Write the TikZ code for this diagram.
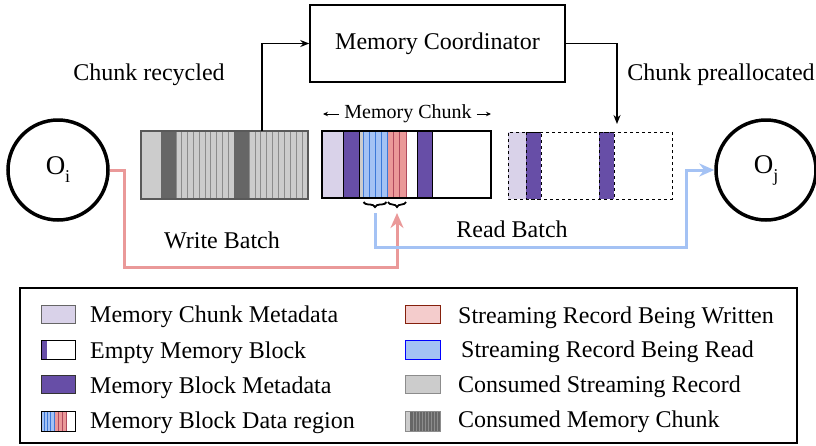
\documentclass[tikz,border=0pt]{standalone}
\usepackage{fontspec}
\setmainfont{Liberation Serif}
\usetikzlibrary{arrows.meta,decorations.pathreplacing,calc}

\definecolor{lav}{HTML}{D9D2E9}
\definecolor{purp}{HTML}{674EA7}
\definecolor{blu}{HTML}{A4C2F4}
\definecolor{bluline}{HTML}{3C78D8}
\definecolor{rd}{HTML}{EA9999}
\definecolor{rdline}{HTML}{B04A5E}
\definecolor{pink}{HTML}{F4CCCC}
\definecolor{pinkline}{HTML}{85200C}
\definecolor{lgray}{HTML}{CCCCCC}
\definecolor{dgray}{HTML}{666666}
\definecolor{mgray}{HTML}{8C8C8C}
\definecolor{readarrow}{HTML}{A4C2F4}
\definecolor{writearrow}{HTML}{EA9999}

\tikzset{
  txt/.style={font=\fontsize{24}{28}\selectfont, inner sep=0pt},
  op/.style={circle, draw, line width=3.5pt, minimum size=100pt, inner sep=0pt},
  chunkbox/.style={draw, line width=1.3pt, inner sep=0pt},
  coordbox/.style={draw, line width=1.5pt, inner sep=0pt, minimum width=255pt, minimum height=77pt},
  flow/.style={line width=1.5pt, -{Stealth[length=9pt,width=7pt]}},
  readflow/.style={readarrow, line width=3pt, -{Stealth[length=15pt,width=13pt]}},
  writeflow/.style={writearrow, line width=3pt, -{Stealth[length=15pt,width=13pt]}},
  bracemark/.style={decorate, decoration={brace, mirror, amplitude=5pt}, line width=1.8pt},
  swatch/.style={line width=1pt},
}

\newcommand{\opname}[2]{O\raisebox{-8pt}{\fontsize{18}{18}\selectfont #2}}

\begin{document}
\begin{tikzpicture}[x=1pt, y=-1pt]
\useasboundingbox (0,0) rectangle (816,445);

% ---------- operators ----------
\node[op, font=\fontsize{27}{30}\selectfont] (oi) at (58,170) {\opname{O}{i}};
\node[op, font=\fontsize{27}{30}\selectfont] (oj) at (766,170) {\opname{O}{j}};

% ---------- memory coordinator ----------
\node[coordbox, txt] (coord) at (437.5,43.5) {Memory Coordinator};

% ---------- consumed chunk (write batch) ----------
\fill[lgray] (141,131) rectangle (308,199);
\fill[dgray] (161,131) rectangle (176,199);
\fill[dgray] (234,131) rectangle (249,199);
\foreach \x in {176,181.8,...,234} \draw[mgray, line width=0.8pt] (\x,131) -- (\x,199);
\foreach \x in {249,254.9,...,308} \draw[mgray, line width=0.8pt] (\x,131) -- (\x,199);
\node[chunkbox, draw=black!65, minimum width=167pt, minimum height=68pt] (wb) at (224.5,165) {};

% ---------- active memory chunk ----------
\fill[lav] (322,131) rectangle (343,198);
\fill[lgray] (359,131) rectangle (363,198);
\fill[blu] (363,131) rectangle (387,198);
\fill[rd] (387,131) rectangle (406,198);
\foreach \x in {363,369,375,381,387} \draw[bluline, line width=0.9pt] (\x,131) -- (\x,198);
\foreach \x in {393.3,399.7,406} \draw[rdline, line width=0.9pt] (\x,131) -- (\x,198);
\filldraw[purp, draw=black, line width=1pt] (343,131) rectangle (359,198);
\filldraw[purp, draw=black, line width=1pt] (417,131) rectangle (432,198);
\node[chunkbox, minimum width=169pt, minimum height=67pt] (mc) at (406.5,164.5) {};

% chunk extent label
\node[font=\fontsize{20}{24}\selectfont, inner sep=0pt] (mclabel) at (408,114) {Memory Chunk};
\coordinate (mcl) at (323,114);
\coordinate (mcr) at (491,114);
\draw[line width=1pt, -{Stealth[length=5pt,width=4.5pt]}] (mclabel.west) ++(-5,0) -- (mcl);
\draw[line width=1pt, -{Stealth[length=5pt,width=4.5pt]}] (mclabel.east) ++(5,0) -- (mcr);

% ---------- preallocated chunk ----------
\fill[lav] (508,132) rectangle (526,199);
\filldraw[purp, draw=black, dashed, line width=1pt] (526,132) rectangle (541,199);
\filldraw[purp, draw=black, dashed, line width=1pt] (599,132) rectangle (614,199);
\node[chunkbox, dashed, line width=1pt, minimum width=164pt, minimum height=67pt] (pc) at (590,165.5) {};

% ---------- record braces ----------
\draw[bracemark] (363.5,202) -- (386.5,202);
\draw[bracemark] (388,202) -- (406,202);
\coordinate (rbtip) at (375,213);
\coordinate (wbtip) at (397,213);

% ---------- coordinator flows ----------
\coordinate (recyc) at (262,131);
\coordinate (prealloc) at (617,124);
\draw[flow] (recyc) |- (coord.west);
\draw[flow] (coord.east) -| (prealloc);

\node[txt] (lrec) at (149,75) {Chunk recycled};
\node[txt] (lpre) at (721,75) {Chunk preallocated};

% ---------- data flows ----------
\coordinate (rturn) at (124,267);
\coordinate (bturn) at (686,247);
\draw[writeflow] (oi.east) -| (rturn) -| (wbtip);
\draw[readflow] (rbtip) |- (bturn) |- (oj.west);

\node[txt] (lwb) at (222,240) {Write Batch};
\node[txt] (lrb) at (512,229) {Read Batch};

% ---------- legend ----------
\node[draw, line width=1.5pt, minimum width=777pt, minimum height=155pt, inner sep=0pt] (legend) at (408.5,365.5) {};

% left column swatches
\filldraw[lav, draw=dgray, swatch] (41,305) rectangle (75,323);
\fill[white] (41,340) rectangle (75,359);
\fill[purp] (41,340) rectangle (47,359);
\draw[swatch] (41,340) rectangle (75,359);
\filldraw[purp, draw=black!80, swatch] (41,375) rectangle (75,393);
\fill[blu] (41,411) rectangle (54,431);
\fill[rd] (54,411) rectangle (66,431);
\foreach \x in {44.2,47.5,50.8,54} \draw[bluline, line width=0.7pt] (\x,411) -- (\x,431);
\foreach \x in {58,62,66} \draw[rdline, line width=0.7pt] (\x,411) -- (\x,431);
\draw[swatch] (41,411) rectangle (75,431);

% right column swatches
\filldraw[pink, draw=pinkline, swatch] (405,305) rectangle (440,323);
\filldraw[blu, draw=blue, swatch] (405,340) rectangle (440,359);
\filldraw[lgray, draw=mgray, swatch] (405,375) rectangle (440,393);
\fill[lgray] (405,411) rectangle (410,431);
\fill[dgray] (410,411) rectangle (440,431);
\foreach \x in {413,416,...,440} \draw[mgray, line width=0.6pt] (\x,411) -- (\x,431);
\draw[mgray, swatch] (405,411) rectangle (440,431);

% legend texts
\node[txt, anchor=base west] (t1) at (90,322) {Memory Chunk Metadata};
\node[txt, anchor=base west] (t2) at (90,358) {Empty Memory Block};
\node[txt, anchor=base west] (t3) at (90,393) {Memory Block Metadata};
\node[txt, anchor=base west] (t4) at (90,428) {Memory Block Data region};
\node[txt, anchor=base west] (t5) at (458,323) {Streaming Record Being Written};
\node[txt, anchor=base west] (t6) at (461,357) {Streaming Record Being Read};
\node[txt, anchor=base west] (t7) at (458,392) {Consumed Streaming Record};
\node[txt, anchor=base west] (t8) at (458,427) {Consumed Memory Chunk};
\end{tikzpicture}
\end{document}
